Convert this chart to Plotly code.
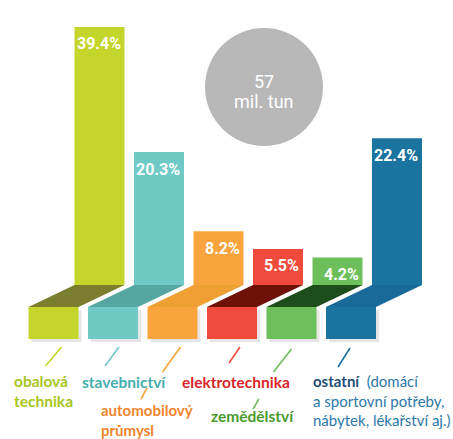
import plotly.graph_objects as go

# ---------------- data ----------------
categories = ["obalová technika", "stavebnictví", "automobilový průmysl",
              "elektrotechnika", "zemědělství", "ostatní"]
shares = [39.4, 20.3, 8.2, 5.5, 4.2, 22.4]
share_labels = ["39.4%", "20.3%", "8.2%", "5.5%", "4.2%", "22.4%"]
total_text = ["57", "mil. tun"]

bar_colors = ["#c4d52b", "#6fcac6", "#f9a43c", "#ef4b3c", "#6cbf5a", "#1b73a0"]
fold_colors = ["#7b7d2f", "#54a8a1", "#efa033", "#6e1109", "#1d4d1b", "#1a6a99"]
text_colors = ["#a8c61e", "#45aeb0", "#f0862c", "#d9262a", "#4a9a2e", "#2d78a8"]

# ---------------- geometry (pixel layout helpers) ----------------
W, H = 453, 439
X0_PX, STEP_PX = 99.5, 59.5      # centre of first bar, spacing
BASE_PX = 285                    # pixel row of value 0
K = 6.55                         # pixels per percent
BAR_W = 50 / STEP_PX
SHIFT = 46 / STEP_PX
FOLD_H = 22 / K
BLOCK_H = 32 / K

def px2x(px):
    return (px - X0_PX) / STEP_PX

def py2y(py):
    return (BASE_PX - py) / K

x_idx = list(range(len(categories)))

fig = go.Figure()

# shadows of front blocks
for i in x_idx:
    cx = i - SHIFT + 3 / STEP_PX
    y0 = -FOLD_H - 3 / K
    xs = [cx - BAR_W / 2, cx + BAR_W / 2, cx + BAR_W / 2, cx - BAR_W / 2, cx - BAR_W / 2]
    ys = [y0, y0, y0 - BLOCK_H, y0 - BLOCK_H, y0]
    fig.add_trace(go.Scatter(x=xs, y=ys, fill="toself", fillcolor="#e6e6e6",
                             line=dict(width=0), mode="lines", hoverinfo="skip",
                             showlegend=False))

# upper bars
fig.add_trace(go.Bar(x=x_idx, y=shares, base=0, width=BAR_W,
                     marker=dict(color=bar_colors, line=dict(width=0)),
                     hoverinfo="skip", showlegend=False))

# folds and front blocks
for i in x_idx:
    xs = [i - BAR_W / 2, i + BAR_W / 2, i - SHIFT + BAR_W / 2, i - SHIFT - BAR_W / 2, i - BAR_W / 2]
    ys = [0, 0, -FOLD_H, -FOLD_H, 0]
    fig.add_trace(go.Scatter(x=xs, y=ys, fill="toself", fillcolor=fold_colors[i],
                             line=dict(width=0), mode="lines", hoverinfo="skip",
                             showlegend=False))
    cx = i - SHIFT
    xs = [cx - BAR_W / 2, cx + BAR_W / 2, cx + BAR_W / 2, cx - BAR_W / 2, cx - BAR_W / 2]
    ys = [-FOLD_H, -FOLD_H, -FOLD_H - BLOCK_H, -FOLD_H - BLOCK_H, -FOLD_H]
    fig.add_trace(go.Scatter(x=xs, y=ys, fill="toself", fillcolor=bar_colors[i],
                             line=dict(width=0), mode="lines", hoverinfo="skip",
                             showlegend=False))

# value labels inside bars
for i in x_idx:
    fig.add_annotation(x=i + BAR_W / 2 - 2 / STEP_PX, y=shares[i], text=share_labels[i],
                       xanchor="right", yanchor="middle", yshift=-17, showarrow=False,
                       font=dict(family="Roboto", size=16, color="white", weight="bold"))

# slash connectors (top px, bottom px, x offsets relative to front block centre)
slash_specs = [(347, 366, 8, -8), (347, 366, 6, -8), (347, 372, 8, -10),
               (347, 363, 8, -3), (349, 372, 0, -18), (348, 367, -1, -13)]
for i, (t, b, dx_t, dx_b) in enumerate(slash_specs):
    c_px = X0_PX + STEP_PX * i - 46
    fig.add_shape(type="line", x0=px2x(c_px + dx_t), y0=py2y(t),
                  x1=px2x(c_px + dx_b), y1=py2y(b),
                  line=dict(color=bar_colors[i], width=1.6))
# secondary small slashes for the lower labels
for i, pts in [(2, (147, 388, 141, 399)), (4, (259, 399, 253, 409))]:
    fig.add_shape(type="line", x0=px2x(pts[0]), y0=py2y(pts[1]),
                  x1=px2x(pts[2]), y1=py2y(pts[3]),
                  line=dict(color=bar_colors[i], width=1.6))

# category labels (index, text, left px, top px of first line, font size)
FONT = "Lato"
label_blocks = [
    (0, "<b>obalová</b><br><b>technika</b>", 12, 370, 15.5),
    (1, "<b>stavebnictví</b>", 80, 371, 15.5),
    (2, "<b>automobilový</b><br><b>průmysl</b>", 99, 399, 15),
    (3, "<b>elektrotechnika</b>", 180, 371, 15.5),
    (4, "<b>zemědělství</b>", 209, 405, 15.5),
]
for i, txt, lx, ty, fs in label_blocks:
    fig.add_annotation(x=px2x(lx), y=py2y(ty), text=txt, xanchor="left", yanchor="top",
                       align="left", showarrow=False,
                       font=dict(family=FONT, size=fs, color=text_colors[i]))

other_text = ("<b><span style='color:#1d4f78'>ostatní</span></b>  (domácí<br>"
              "a sportovní potřeby,<br>nábytek, lékařství aj.)")
fig.add_annotation(x=px2x(311), y=py2y(370), text=other_text, xanchor="left", yanchor="top",
                   align="left", showarrow=False,
                   font=dict(family=FONT, size=15, color=text_colors[5]))

# total circle
cx_px, cy_px, r_px = 264, 87, 59
fig.add_shape(type="circle", xref="x", yref="y",
              x0=px2x(cx_px - r_px), x1=px2x(cx_px + r_px),
              y0=py2y(cy_px + r_px), y1=py2y(cy_px - r_px),
              fillcolor="#b8b8b8", line=dict(width=0), layer="below")
fig.add_annotation(x=px2x(cx_px), y=py2y(81), text=total_text[0], showarrow=False,
                   font=dict(family="Roboto", size=18, color="white"))
fig.add_annotation(x=px2x(cx_px), y=py2y(101), text=total_text[1], showarrow=False,
                   font=dict(family="Roboto", size=18, color="white"))

fig.update_layout(
    width=W, height=H, margin=dict(l=0, r=0, t=0, b=0),
    paper_bgcolor="white", plot_bgcolor="white", showlegend=False,
    xaxis=dict(range=[px2x(0), px2x(W)], visible=False, fixedrange=True),
    yaxis=dict(range=[py2y(H), py2y(0)], visible=False, fixedrange=True),
)

fig.write_html("out.html", config={"displayModeBar": False},
               post_script="document.body.style.margin='0';")
